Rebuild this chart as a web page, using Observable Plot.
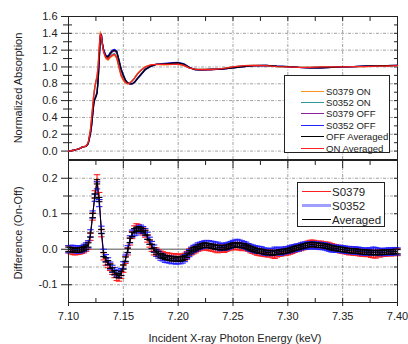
<!DOCTYPE html>
<html><head><meta charset="utf-8">
<script src="https://cdn.jsdelivr.net/npm/d3@7"></script>
<script src="https://cdn.jsdelivr.net/npm/@observablehq/plot@0.6"></script>
<style>
body{margin:0;background:#fff;font-family:"Liberation Sans",Arial,sans-serif;color:#222;}
#wrap{position:relative;width:408px;height:344px;overflow:hidden;background:#fff;}
#top,#bot{position:absolute;left:0;}
#top{top:0;} #bot{top:160px;}
svg{overflow:visible}
.ytitle,.xtitle{position:absolute;font-size:11px;white-space:nowrap;}
.ytitle{transform:translate(-50%,-50%) rotate(-90deg);}
.xtitle{transform:translate(-50%,-50%);}
.legend{position:absolute;background:#fff;border:1px solid #222;box-sizing:border-box;}
.row{position:absolute;white-space:nowrap;}
.sw{position:absolute;height:0;}
</style></head>
<body>
<div id="wrap">
  <div id="bot"></div>
  <div id="top"></div>
</div>
<script>
// ---------- data: top panel (normalized absorption) ----------
const topEnergy = [7.100,7.105,7.110,7.113,7.116,7.118,7.120,7.121,7.122,7.123,
 7.124,7.125,7.126,7.127,7.128,7.129,7.130,7.131,7.132,7.134,
 7.136,7.138,7.140,7.142,7.144,7.146,7.148,7.150,7.152,7.154,
 7.156,7.158,7.160,7.163,7.166,7.170,7.175,7.180,7.185,7.190,
 7.195,7.200,7.205,7.210,7.215,7.220,7.230,7.240,7.250,7.260,
 7.270,7.280,7.290,7.300,7.310,7.320,7.330,7.340,7.350,7.360,
 7.370,7.380,7.390,7.400];
const s0379On = [0.00,0.01,0.03,0.05,0.06,0.10,0.26,0.39,0.53,0.67,
 0.77,0.84,0.89,1.02,1.25,1.42,1.37,1.26,1.17,1.10,
 1.08,1.11,1.13,1.14,1.10,0.99,0.89,0.84,0.81,0.80,
 0.81,0.84,0.87,0.925,0.965,1.005,1.025,1.03,1.025,1.025,
 1.03,1.03,1.015,0.99,0.975,0.97,0.97,0.98,1.00,1.015,
 1.02,1.015,1.005,1.00,0.995,0.995,1.00,1.00,1.00,1.005,
 1.005,1.01,1.01,1.015];
const s0352On = [0.00,0.01,0.03,0.05,0.06,0.10,0.24,0.37,0.51,0.65,
 0.75,0.82,0.87,0.99,1.20,1.38,1.35,1.26,1.19,1.12,
 1.10,1.13,1.15,1.16,1.12,1.01,0.91,0.86,0.82,0.805,
 0.81,0.83,0.86,0.915,0.955,0.995,1.02,1.03,1.035,1.035,
 1.03,1.04,1.025,0.99,0.975,0.97,0.975,0.98,1.00,1.015,
 1.02,1.015,1.005,1.00,0.995,0.995,1.00,1.00,1.00,1.005,
 1.01,1.01,1.015,1.015];
const s0379Off = [0.00,0.01,0.03,0.05,0.055,0.09,0.22,0.31,0.44,0.57,
 0.63,0.66,0.70,0.86,1.10,1.37,1.38,1.27,1.19,1.12,
 1.11,1.15,1.18,1.19,1.17,1.07,0.96,0.89,0.835,0.81,
 0.80,0.80,0.82,0.87,0.915,0.975,1.015,1.03,1.03,1.035,
 1.045,1.045,1.03,0.99,0.97,0.965,0.97,0.975,0.99,1.005,
 1.015,1.02,1.01,1.005,0.995,0.99,0.99,0.995,1.00,1.005,
 1.01,1.015,1.015,1.02];
const s0352Off = [0.00,0.01,0.03,0.05,0.055,0.09,0.20,0.29,0.42,0.55,
 0.61,0.64,0.68,0.82,1.06,1.35,1.39,1.28,1.21,1.14,
 1.13,1.17,1.20,1.21,1.19,1.09,0.98,0.91,0.845,0.81,
 0.80,0.80,0.81,0.86,0.905,0.965,1.005,1.03,1.04,1.045,
 1.05,1.055,1.04,1.00,0.97,0.965,0.97,0.975,0.99,1.005,
 1.015,1.02,1.01,1.005,0.995,0.99,0.99,0.995,1.00,1.005,
 1.01,1.015,1.015,1.02];
const offAveraged = [0.00,0.01,0.03,0.05,0.055,0.09,0.21,0.30,0.43,0.56,
 0.62,0.65,0.69,0.84,1.08,1.36,1.38,1.27,1.20,1.13,
 1.12,1.16,1.19,1.20,1.18,1.08,0.97,0.90,0.84,0.81,
 0.80,0.80,0.815,0.865,0.91,0.97,1.01,1.03,1.035,1.04,
 1.045,1.05,1.035,0.995,0.97,0.965,0.97,0.975,0.99,1.005,
 1.015,1.02,1.01,1.005,0.995,0.99,0.99,0.995,1.00,1.005,
 1.01,1.015,1.015,1.02];
const onAveraged = [0.00,0.01,0.03,0.05,0.06,0.10,0.25,0.38,0.52,0.66,
 0.76,0.83,0.88,1.00,1.22,1.40,1.36,1.26,1.18,1.11,
 1.09,1.12,1.14,1.15,1.11,1.00,0.90,0.85,0.815,0.80,
 0.81,0.835,0.865,0.92,0.96,1.00,1.025,1.03,1.03,1.03,
 1.03,1.035,1.02,0.99,0.975,0.97,0.97,0.98,1.00,1.015,
 1.02,1.015,1.005,1.00,0.995,0.995,1.00,1.00,1.00,1.005,
 1.005,1.01,1.01,1.015];
const topSeries = ["S0379 ON","S0352 ON","S0379 OFF","S0352 OFF","OFF Averaged","ON Averaged"];
const topColors = ["#f7941d","#2f9a96","#8e1f9c","#2323ff","#000000","#ff1f1f"];

// ---------- data: bottom panel (difference On-Off) ----------
const diffEnergy = [7.100,7.102,7.104,7.106,7.108,7.110,7.112,7.114,7.116,7.118,
 7.120,7.122,7.124,7.126,7.128,7.130,7.132,7.134,7.136,7.138,
 7.140,7.142,7.144,7.146,7.148,7.150,7.152,7.154,7.156,7.158,
 7.160,7.162,7.164,7.166,7.168,7.170,7.172,7.174,7.176,7.178,
 7.180,7.182,7.184,7.186,7.188,7.190,7.192,7.194,7.196,7.198,
 7.200,7.202,7.204,7.206,7.208,7.210,7.212,7.214,7.216,7.218,
 7.220,7.222,7.224,7.226,7.228,7.230,7.232,7.234,7.236,7.238,
 7.240,7.242,7.244,7.246,7.248,7.250,7.252,7.254,7.256,7.258,
 7.260,7.262,7.264,7.266,7.268,7.270,7.272,7.274,7.276,7.278,
 7.280,7.282,7.284,7.286,7.288,7.290,7.292,7.294,7.296,7.298,
 7.300,7.302,7.304,7.306,7.308,7.310,7.312,7.314,7.316,7.318,
 7.320,7.322,7.324,7.326,7.328,7.330,7.332,7.334,7.336,7.338,
 7.340,7.342,7.344,7.346,7.348,7.350,7.352,7.354,7.356,7.358,
 7.360,7.362,7.364,7.366,7.368,7.370,7.372,7.374,7.376,7.378,
 7.380,7.382,7.384,7.386,7.388,7.390,7.392,7.394,7.396,7.398,
 7.400];
const diffS0379 = [0,-0.003,-0.005,-0.006,-0.005,-0.004,-0.002,0,0.004,0.010,
 0.035,0.092,0.155,0.200,0.150,0.045,-0.020,-0.035,-0.042,-0.050,
 -0.061,-0.070,-0.078,-0.080,-0.072,-0.055,-0.030,-0.006,0.022,0.040,
 0.056,0.062,0.060,0.054,0.050,0.044,0.030,0.016,0.004,-0.006,
 -0.006,-0.011,-0.015,-0.017,-0.019,-0.020,-0.021,-0.023,-0.022,-0.024,
 -0.023,-0.025,-0.023,-0.021,-0.016,-0.009,-0.006,-0.003,0,0.004,
 0.006,0.008,0.010,0.007,0.006,0.005,0.004,0.002,0,0.002,
 0.003,0.001,0.004,0.006,0.008,0.010,0.008,0.010,0.008,0.006,
 0.008,0.006,0.004,0,-0.002,-0.004,-0.007,-0.008,-0.009,-0.010,
 -0.011,-0.012,-0.011,-0.014,-0.016,-0.012,-0.010,-0.009,-0.008,-0.007,
 -0.006,-0.004,-0.002,0.001,0.003,0.005,0.006,0.008,0.010,0.013,
 0.015,0.016,0.015,0.013,0.012,0.013,0.011,0.010,0.010,0.008,
 0.006,0.004,0.003,0.001,-0.001,-0.002,-0.003,-0.004,-0.006,-0.005,
 -0.007,-0.006,-0.008,-0.009,-0.010,-0.009,-0.011,-0.010,-0.013,-0.014,
 -0.015,-0.011,-0.012,-0.009,-0.010,-0.009,-0.008,-0.009,-0.008,-0.007,
 -0.008];
const diffS0352 = [0,0.001,0.001,0,-0.001,0,0,0.004,0.008,0.014,
 0.045,0.098,0.145,0.180,0.130,0.055,-0.010,-0.025,-0.034,-0.046,
 -0.055,-0.062,-0.068,-0.070,-0.064,-0.045,-0.026,0,0.028,0.044,
 0.048,0.050,0.056,0.058,0.054,0.048,0.038,0.024,0.012,0.002,
 -0.010,-0.015,-0.021,-0.023,-0.027,-0.028,-0.029,-0.031,-0.030,-0.032,
 -0.031,-0.031,-0.029,-0.025,-0.018,-0.011,-0.004,0.001,0.004,0.008,
 0.010,0.012,0.014,0.015,0.014,0.013,0.012,0.010,0.010,0.006,
 0.007,0.007,0.008,0.010,0.012,0.015,0.016,0.018,0.016,0.014,
 0.012,0.010,0.006,0.004,0.002,0,-0.001,-0.002,-0.003,-0.006,
 -0.007,-0.008,-0.007,-0.008,-0.004,-0.006,-0.004,-0.007,-0.004,-0.003,
 -0.002,0,0.002,0.003,0.005,0.005,0.008,0.010,0.010,0.011,
 0.011,0.012,0.011,0.011,0.010,0.009,0.009,0.008,0.006,0.004,
 0.002,0.002,0.001,0.001,0.001,0,-0.001,-0.002,-0.002,-0.003,
 -0.003,-0.004,-0.004,-0.005,-0.006,-0.007,-0.007,-0.006,-0.007,-0.004,
 -0.005,-0.007,-0.008,-0.007,-0.008,-0.007,-0.006,-0.007,-0.006,-0.005,
 -0.006];
const diffAveraged = [0,-0.001,-0.002,-0.003,-0.003,-0.002,-0.001,0.002,0.006,0.012,
 0.040,0.095,0.150,0.190,0.140,0.050,-0.015,-0.030,-0.038,-0.048,
 -0.058,-0.066,-0.073,-0.075,-0.068,-0.050,-0.028,-0.003,0.025,0.042,
 0.052,0.056,0.058,0.056,0.052,0.046,0.034,0.020,0.008,-0.002,
 -0.008,-0.013,-0.018,-0.020,-0.023,-0.024,-0.025,-0.027,-0.026,-0.028,
 -0.027,-0.028,-0.026,-0.023,-0.017,-0.010,-0.005,-0.001,0.002,0.006,
 0.008,0.010,0.012,0.011,0.010,0.009,0.008,0.006,0.005,0.004,
 0.005,0.004,0.006,0.008,0.010,0.012,0.011,0.013,0.012,0.010,
 0.010,0.008,0.005,0.002,0,-0.002,-0.004,-0.005,-0.006,-0.008,
 -0.009,-0.010,-0.009,-0.011,-0.010,-0.009,-0.007,-0.008,-0.006,-0.005,
 -0.004,-0.002,0,0.002,0.004,0.005,0.007,0.009,0.010,0.012,
 0.013,0.014,0.013,0.012,0.011,0.011,0.010,0.009,0.008,0.006,
 0.004,0.003,0.002,0.001,0,-0.001,-0.002,-0.003,-0.004,-0.004,
 -0.005,-0.005,-0.006,-0.007,-0.008,-0.008,-0.009,-0.008,-0.010,-0.009,
 -0.010,-0.009,-0.010,-0.008,-0.009,-0.008,-0.007,-0.008,-0.007,-0.006,
 -0.007];
const diffErrors = [0.010, 0.010, 0.006];   // S0379, S0352, Averaged
const diffSeries = ["S0379","S0352","Averaged"];
const diffColors = ["#ff1f1f","#2323ff","#000000"];

// ---------- tick values ----------
const xMajor = [7.10,7.15,7.20,7.25,7.30,7.35,7.40];
const xMinor = [7.125,7.175,7.225,7.275,7.325,7.375];
const xGrid = [7.15,7.20,7.25,7.30,7.35];
const yTopMajor = [0.0,0.2,0.4,0.6,0.8,1.0,1.2,1.4,1.6];
const yTopMinor = [0.1,0.3,0.5,0.7,0.9,1.1,1.3,1.5];
const yTopGrid = [0.0,0.2,0.4,0.6,0.8,1.0,1.2,1.4];
const yBotMajor = [-0.1,0.0,0.1,0.2];
const yBotMinor = [-0.05,0.05,0.15];
const yBotGrid = [-0.1,-0.05,0.05,0.1,0.15,0.2];

// ---------- build ----------
const FONT = "'Liberation Sans', Arial, sans-serif";
const gridStyle = {stroke:"#8a8a8a", strokeWidth:0.8, strokeDasharray:"3,1.5,1,1.5"};
const axisColor = "#222";
const noText = () => "";

const topRows = [];
const topVals = [s0379On, s0352On, s0379Off, s0352Off, offAveraged, onAveraged];
topSeries.forEach((s, k) => topEnergy.forEach((e, i) => topRows.push({series: s, e, v: topVals[k][i]})));

const topPlot = Plot.plot({
  width: 408, height: 160,
  marginLeft: 68, marginRight: 11, marginTop: 16, marginBottom: 1,
  x: {domain: [7.10, 7.40]},
  y: {domain: [-0.1, 1.6]},
  color: {domain: topSeries, range: topColors},
  style: {fontFamily: FONT, fontSize: "11px", color: axisColor, background: "transparent", overflow: "visible"},
  marks: [
    Plot.ruleY(yTopGrid, gridStyle),
    Plot.ruleX(xGrid, gridStyle),
    Plot.frame({stroke: axisColor}),
    Plot.axisY({anchor: "left", ticks: yTopMajor, tickSize: 0, tickPadding: 11, tickFormat: d => d.toFixed(1), label: null}),
    Plot.axisY({anchor: "left", ticks: yTopMajor, tickSize: 11, dx: 4, tickFormat: noText, label: null}),
    Plot.axisY({anchor: "left", ticks: yTopMinor, tickSize: 9, dx: 4, tickFormat: noText, label: null}),
    Plot.axisY({anchor: "right", ticks: yTopMajor.concat(yTopMinor), tickSize: 4, dx: -4, tickFormat: noText, label: null}),
    Plot.axisX({anchor: "top", ticks: xMajor.concat(xMinor), tickSize: 4, dy: 4, tickFormat: noText, label: null}),
    Plot.line(topRows, {x: "e", y: "v", z: "series", stroke: "series", strokeWidth: 1.3})
  ]
});
document.getElementById("top").appendChild(topPlot);

// bottom panel
const capSymbol = {draw(ctx) { ctx.moveTo(-3.2, 0); ctx.lineTo(3.2, 0); }};
const diffVals = [diffS0379, diffS0352, diffAveraged];
const botMarks = [];
diffSeries.forEach((s, k) => {
  const rows = diffEnergy.map((e, i) => ({e, v: diffVals[k][i], lo: diffVals[k][i] - diffErrors[k], hi: diffVals[k][i] + diffErrors[k]}));
  const c = diffColors[k];
  botMarks.push(
    Plot.ruleX(rows, {x: "e", y1: "lo", y2: "hi", stroke: c, strokeWidth: 1.1}),
    Plot.dot(rows, {x: "e", y: "hi", symbol: capSymbol, fill: "none", stroke: c, strokeWidth: 1.1, r: 3}),
    Plot.dot(rows, {x: "e", y: "lo", symbol: capSymbol, fill: "none", stroke: c, strokeWidth: 1.1, r: 3}),
    Plot.line(rows, {x: "e", y: "v", stroke: c, strokeWidth: 1})
  );
});

const botPlot = Plot.plot({
  width: 408, height: 184,
  marginLeft: 68, marginRight: 11, marginTop: 0, marginBottom: 42,
  x: {domain: [7.10, 7.40]},
  y: {domain: [-0.15, 0.25]},
  style: {fontFamily: FONT, fontSize: "11px", color: axisColor, background: "transparent", overflow: "visible"},
  marks: [
    Plot.ruleY(yBotGrid, gridStyle),
    Plot.ruleX(xGrid, gridStyle),
    Plot.ruleY([0], {stroke: "#8a8a8a", strokeWidth: 1.6}),
    ...botMarks,
    Plot.frame({stroke: axisColor}),
    Plot.axisY({anchor: "left", ticks: yBotMajor, tickSize: 0, tickPadding: 11, tickFormat: d => d.toFixed(1), label: null}),
    Plot.axisY({anchor: "left", ticks: yBotMajor, tickSize: 11, dx: 4, tickFormat: noText, label: null}),
    Plot.axisY({anchor: "left", ticks: yBotMinor, tickSize: 9, dx: 4, tickFormat: noText, label: null}),
    Plot.axisY({anchor: "right", ticks: yBotMajor.concat(yBotMinor), tickSize: 4, dx: -4, tickFormat: noText, label: null}),
    Plot.axisX({anchor: "top", ticks: xMajor, tickSize: 7, dy: 7, tickFormat: noText, label: null}),
    Plot.axisX({anchor: "top", ticks: xMinor, tickSize: 4, dy: 4, tickFormat: noText, label: null}),
    Plot.axisX({anchor: "bottom", ticks: xMajor, tickSize: 8, dy: -4, tickFormat: noText, label: null}),
    Plot.axisX({anchor: "bottom", ticks: xMinor, tickSize: 4, dy: -4, tickFormat: noText, label: null}),
    Plot.axisX({anchor: "bottom", ticks: xMajor, tickSize: 0, tickPadding: 10, tickFormat: d => d.toFixed(2), label: null})
  ]
});
document.getElementById("bot").appendChild(botPlot);

// ---------- titles and legends (HTML) ----------
const wrap = document.getElementById("wrap");
function addDiv(cls, text, style) {
  const d = document.createElement("div");
  d.className = cls; d.textContent = text;
  Object.assign(d.style, style);
  wrap.appendChild(d);
  return d;
}
addDiv("ytitle", "Normalized Absorption", {left: "18px", top: "88px"});
addDiv("ytitle", "Difference (On-Off)", {left: "18px", top: "233px"});
addDiv("xtitle", "Incident X-ray Photon Energy (keV)", {left: "235px", top: "338px"});

// top legend
const lg1 = addDiv("legend", "", {left: "284px", top: "75px", width: "106px", height: "78px"});
topSeries.forEach((s, i) => {
  const cy = 15.5 + 11.4 * i;
  const sw = document.createElement("div");
  sw.className = "sw";
  Object.assign(sw.style, {left: "16px", width: "23px", top: (cy - 1) + "px", borderTop: "1.5px solid " + topColors[i]});
  lg1.appendChild(sw);
  const t = document.createElement("div");
  t.className = "row"; t.textContent = s;
  Object.assign(t.style, {left: "41px", top: (cy - 6) + "px", fontSize: "9.6px", lineHeight: "12px"});
  lg1.appendChild(t);
});
// bottom legend
const lg2 = addDiv("legend", "", {left: "297px", top: "182px", width: "88px", height: "45px", border: "1.5px solid #222"});
const swStyles = ["1.2px solid #ff1f1f", "3px solid rgba(80,80,255,0.55)", "1.2px solid #000"];
diffSeries.forEach((s, i) => {
  const cy = 8.5 + 14 * i;
  const sw = document.createElement("div");
  sw.className = "sw";
  Object.assign(sw.style, {left: "4px", width: "29px", top: (cy - (i === 1 ? 1.5 : 0.6)) + "px", borderTop: swStyles[i]});
  lg2.appendChild(sw);
  const t = document.createElement("div");
  t.className = "row"; t.textContent = s;
  Object.assign(t.style, {left: "34px", top: (cy - 7) + "px", fontSize: "11.5px", lineHeight: "14px"});
  lg2.appendChild(t);
});
</script>
</body></html>
